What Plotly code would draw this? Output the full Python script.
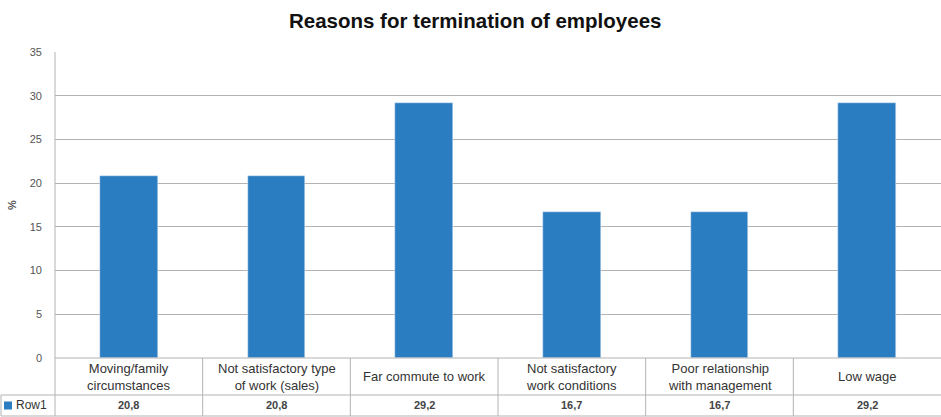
import plotly.graph_objects as go

# Chart data
categories = [
    "Moving/family<br>circumstances",
    "Not satisfactory type<br>of work (sales)",
    "Far commute to work",
    "Not satisfactory<br>work conditions",
    "Poor relationship<br>with management",
    "Low wage",
]
values = [20.8, 20.8, 29.2, 16.7, 16.7, 29.2]
series_name = "Row1"
y_ticks = [0, 5, 10, 15, 20, 25, 30, 35]

W, H = 941, 417
ML, MR, MT, MB = 55, 0, 52, 59
plot_h = H - MT - MB
plot_w = W - ML - MR

BAR = "#2a7dc0"
LINE = "#b3b3b3"
TXT = "#333333"
FONT = "Liberation Sans, Arial, sans-serif"

n = len(categories)
xs = list(range(n))

fig = go.Figure(go.Bar(x=xs, y=values, marker_color=BAR, width=0.39,
                       showlegend=False, hoverinfo="skip"))

# table geometry in paper units
row1 = -37 / plot_h
row2 = -(H - MT - plot_h - 1) / plot_h
left_px = 1
left_paper = (left_px - ML) / plot_w

shapes = []
# category dividers through both rows
for k in range(n - 1):
    shapes.append(dict(type="line", xref="x", yref="paper", x0=k + 0.5, x1=k + 0.5,
                       y0=0, y1=row2, line=dict(color=LINE, width=1)))
# left border of category row and legend column divider
shapes.append(dict(type="line", xref="paper", yref="paper", x0=0, x1=0,
                   y0=1, y1=row2, line=dict(color=LINE, width=1)))
# horizontal table lines
shapes.append(dict(type="line", xref="paper", yref="paper", x0=0, x1=1,
                   y0=0, y1=0, line=dict(color=LINE, width=1)))
shapes.append(dict(type="line", xref="paper", yref="paper", x0=left_paper, x1=1,
                   y0=row1, y1=row1, line=dict(color=LINE, width=1)))
shapes.append(dict(type="line", xref="paper", yref="paper", x0=left_paper, x1=1,
                   y0=row2, y1=row2, line=dict(color=LINE, width=1)))
shapes.append(dict(type="line", xref="paper", yref="paper", x0=left_paper, x1=left_paper,
                   y0=row1, y1=row2, line=dict(color=LINE, width=1)))
# legend key
key_x0 = (4 - ML) / plot_w
key_x1 = (12 - ML) / plot_w
ky = (row1 + row2) / 2
shapes.append(dict(type="rect", xref="paper", yref="paper", x0=key_x0, x1=key_x1,
                   y0=ky - 4 / plot_h, y1=ky + 4 / plot_h, fillcolor=BAR, line=dict(width=0)))

annotations = []
for k, (c, v) in enumerate(zip(categories, values)):
    annotations.append(dict(x=k, y=row1 / 2, xref="x", yref="paper", text=c,
                            showarrow=False, font=dict(size=13, color=TXT, family=FONT),
                            xanchor="center", yanchor="middle"))
    annotations.append(dict(x=k, y=ky, xref="x", yref="paper",
                            text="<b>" + f"{v:.1f}".replace(".", ",") + "</b>",
                            showarrow=False, font=dict(size=11, color="#444444", family=FONT),
                            xanchor="center", yanchor="middle"))
annotations.append(dict(x=(14 - ML) / plot_w, y=ky, xref="paper", yref="paper",
                        text=series_name, showarrow=False, xanchor="left", yanchor="middle",
                        font=dict(size=12, color=TXT, family=FONT)))
annotations.append(dict(x=(12 - ML) / plot_w, y=0.5, xref="paper", yref="paper", text="<b>%</b>",
                        textangle=-90, showarrow=False, xanchor="center", yanchor="middle",
                        font=dict(size=11, color="#555555", family=FONT)))

fig.update_layout(
    width=W, height=H,
    margin=dict(l=ML, r=MR, t=MT, b=MB),
    paper_bgcolor="white", plot_bgcolor="white",
    title=dict(text="<b>Reasons for termination of employees</b>", x=0.505, xanchor="center",
               y=1 - 21 / H, yanchor="middle",
               font=dict(size=20.5, color="#111111", family=FONT)),
    xaxis=dict(range=[-0.5, n - 0.5], showticklabels=False, showgrid=False,
               zeroline=False, ticks=""),
    yaxis=dict(range=[0, 35], tickvals=y_ticks, showgrid=True, gridcolor=LINE,
               gridwidth=1, zeroline=False, ticks="", ticklabelstandoff=12,
               tickprefix="<b>", ticksuffix="</b>",
               tickfont=dict(size=11, color="#555555", family=FONT)),
    shapes=shapes, annotations=annotations,
    bargap=0,
)

fig.write_html("out.html")
